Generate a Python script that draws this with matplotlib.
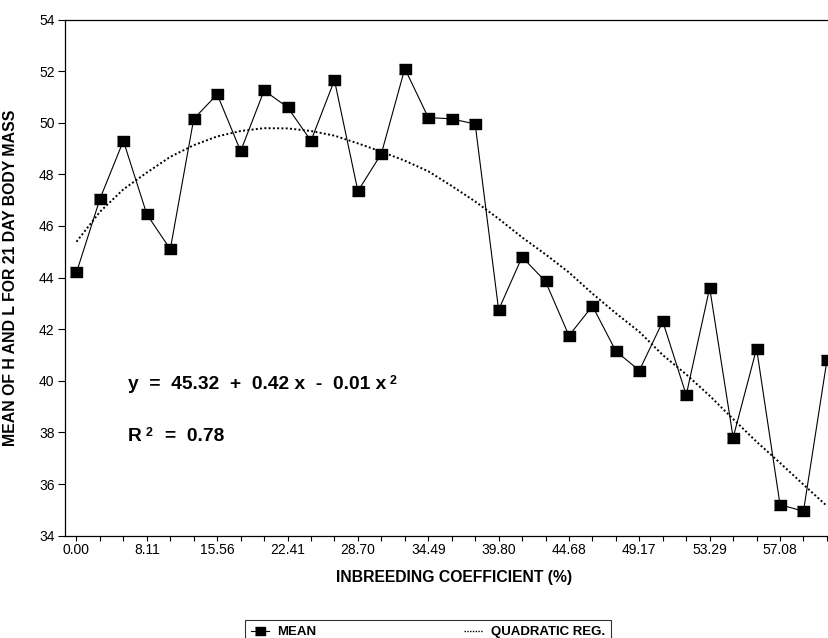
import numpy as np
import matplotlib
matplotlib.use("Agg")
import matplotlib.pyplot as plt
from matplotlib.lines import Line2D

plt.rcParams['font.family'] = ['Liberation Sans', 'DejaVu Sans']

# means per inbreeding class
mean_vals = [44.2, 47.05, 49.3, 46.45, 45.1, 50.15, 51.1, 48.9, 51.25, 50.6,
             49.3, 51.65, 47.35, 48.8, 52.1, 50.2, 50.15, 49.95, 42.75, 44.8,
             43.85, 41.75, 42.9, 41.15, 40.4, 42.3, 39.45, 43.6, 37.8, 41.25,
             35.2, 34.95, 40.8]
# quadratic regression curve, read at each class
reg_vals = [45.39, 46.55, 47.42, 48.07, 48.68, 49.13, 49.47, 49.68, 49.79, 49.78,
            49.68, 49.5, 49.2, 48.88, 48.53, 48.12, 47.55, 46.95, 46.28, 45.56,
            44.9, 44.2, 43.38, 42.62, 41.9, 41.0, 40.25, 39.42, 38.52, 37.64,
            36.82, 35.98, 35.15]
tick_labels = ["0.00", "8.11", "15.56", "22.41", "28.70", "34.49",
               "39.80", "44.68", "49.17", "53.29", "57.08"]
label_step = 3

x = np.arange(len(mean_vals))

fig = plt.figure(figsize=(8.29, 6.38), dpi=100)
W, H = 829, 638
ax_l, ax_r, ax_t, ax_b = 65, 845, 19.5, 535.7
ax = fig.add_axes([ax_l / W, 1 - ax_b / H, (ax_r - ax_l) / W, (ax_b - ax_t) / H])

box = [(-1.2, -1), (1.2, -1), (1.2, 1), (-1.2, 1)]
ax.plot(x, mean_vals, color='black', linewidth=0.8, marker=box,
        markersize=8.2, markerfacecolor='black', markeredgecolor='black')
ax.plot(x, reg_vals, color='black', linewidth=1.4, linestyle=(0, (1, 1.2)))

ax.set_ylim(34, 54)
ax.set_yticks(np.arange(34, 55, 2))
ax.set_xlim(-0.49, 32.77)
ax.set_xticks(x[::label_step])
ax.set_xticklabels(tick_labels)
ax.set_xticks([i for i in x if i % label_step], minor=True)

ax.tick_params(axis='y', direction='out', length=5, width=0.8, pad=2.5, labelsize=10)
ax.tick_params(axis='x', which='both', direction='out', length=3.5, width=0.8,
               pad=2, labelsize=10)
ax.spines['right'].set_visible(False)
for s in ('left', 'top', 'bottom'):
    ax.spines[s].set_linewidth(0.9)

ax.set_xlabel("INBREEDING COEFFICIENT (%)", fontsize=11.3, fontweight='bold')
ax.xaxis.set_label_coords(0.4987, -0.0665)
ax.set_ylabel("MEAN OF H AND L FOR 21 DAY BODY MASS", fontsize=11.4, fontweight='bold')
ax.yaxis.set_label_coords(-0.0603, 0.5)

# regression equation
eq = ax.text(0.0808, 0.292, "y  =  45.32  +  0.42 x  -  0.01 x", transform=ax.transAxes,
             fontsize=13.8, fontweight='bold', va='center', ha='left')
ax.annotate("2", xy=(1, 1), xycoords=eq, xytext=(2.5, 1), textcoords='offset points',
            fontsize=9, fontweight='bold', va='top', ha='left')
r = ax.text(0.0808, 0.192, "R", transform=ax.transAxes,
            fontsize=13.8, fontweight='bold', va='center', ha='left')
ax.annotate("2", xy=(1, 1), xycoords=r, xytext=(3, 1), textcoords='offset points',
            fontsize=9, fontweight='bold', va='top', ha='left')
ax.annotate("=  0.78", xy=(1, 0), xycoords=r, xytext=(17, 0), textcoords='offset points',
            fontsize=13.8, fontweight='bold', va='bottom', ha='left')

handles = [
    Line2D([], [], color='black', linewidth=0.8, marker=box, markersize=6.5),
    Line2D([], [], color='black', linewidth=1.0, linestyle=(0, (1, 1))),
]
fig.legend(handles, ["MEAN", "QUADRATIC REG."], loc='upper left',
           bbox_to_anchor=(245 / W, 1 - 620 / H), ncol=2,
           prop={'weight': 'bold', 'size': 9.5},
           frameon=True, fancybox=False, edgecolor='black', handlelength=1.4,
           handletextpad=0.6, columnspacing=11.2, borderpad=0.45, borderaxespad=0)
leg = fig.legends[0]
leg.get_frame().set_linewidth(0.8)

fig.savefig("out.png", dpi=100)
